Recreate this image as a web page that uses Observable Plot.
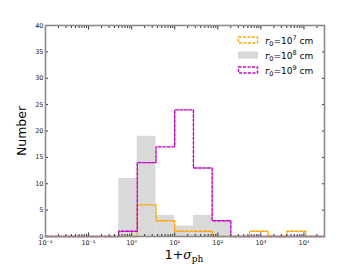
<!DOCTYPE html>
<html>
<head>
<meta charset="utf-8">
<script src="https://cdn.jsdelivr.net/npm/d3@7"></script>
<script src="https://cdn.jsdelivr.net/npm/@observablehq/plot@0.6"></script>
<style>
  html, body { margin: 0; padding: 0; background: #fff; }
  #chart { width: 360px; height: 270px; }
</style>
</head>
<body>
<div id="chart"></div>
<script>
// Bin edges (log-spaced)
const binEdges = [0.5, 1.35, 3.68, 10, 27.2, 73.9, 201, 546, 1484, 4034, 10966];
// Counts per bin
const countsR7 = [0, 6, 3, 1, 1, 0, 0, 1, 0, 1];
const countsR8 = [11, 19, 4, 2, 4, 3, 0, 0, 0, 0];
const countsR9 = [1, 14, 17, 24, 13, 3, 0, 0, 0, 0];
const seriesLabels = ["7", "8", "9"];
const xMajorTicks = [1e-2, 1e-1, 1e0, 1e1, 1e2, 1e3, 1e4];
const yTicks = [0, 5, 10, 15, 20, 25, 30, 35, 40];
const xDomain = [0.01, 3e4];

const sup = {"-": "⁻", "0": "⁰", "1": "¹", "2": "²", "3": "³", "4": "⁴", "5": "⁵", "6": "⁶", "7": "⁷", "8": "⁸", "9": "⁹"};
const toSup = s => String(s).split("").map(c => sup[c] || c).join("");
const fmtPow = v => "10" + toSup(Math.round(Math.log10(v)));

const minorTicks = [];
for (let k = -2; k <= 4; k++) for (let m = 2; m <= 9; m++) {
  const v = m * Math.pow(10, k);
  if (v <= xDomain[1]) minorTicks.push(v);
}

function stepData(counts) {
  const pts = [{x: xDomain[0], y: 0}];
  counts.forEach((c, i) => pts.push({x: binEdges[i], y: c}));
  pts.push({x: binEdges[binEdges.length - 1], y: 0});
  pts.push({x: xDomain[1], y: 0});
  return pts;
}
const rects = countsR8.map((c, i) => ({x1: binEdges[i], x2: binEdges[i + 1], y: c}));

const orange = "#FFA500", magenta = "#CC00CC", grayFill = "#d9d9d9";
const tickColor = "#333";

const plot = Plot.plot({
  width: 360,
  height: 270,
  marginLeft: 45,
  marginRight: 36,
  marginTop: 25,
  marginBottom: 34,
  style: {fontFamily: "DejaVu Sans", fontSize: "6.5px", color: "#222", background: "#fff"},
  x: {type: "log", domain: xDomain},
  y: {domain: [0, 40]},
  marks: [
    Plot.rectY(rects, {x1: "x1", x2: "x2", y: "y", fill: grayFill}),
    Plot.line(stepData(countsR7), {x: "x", y: "y", curve: "step-after", stroke: orange, strokeWidth: 1.4, strokeDasharray: "3,1.5"}),
    Plot.line(stepData(countsR9), {x: "x", y: "y", curve: "step-after", stroke: magenta, strokeWidth: 1.4, strokeDasharray: "3,1.5"}),
    // bottom axis
    Plot.axisX({anchor: "bottom", ticks: xMajorTicks, tickFormat: fmtPow, tickSize: -3.5, tickPadding: 7, stroke: tickColor, label: null}),
    Plot.axisX({anchor: "bottom", ticks: minorTicks, tickFormat: () => "", tickSize: -2, stroke: tickColor, label: null}),
    // top axis
    Plot.axisX({anchor: "top", ticks: xMajorTicks, tickFormat: () => "", tickSize: -3.5, stroke: tickColor, label: null}),
    Plot.axisX({anchor: "top", ticks: minorTicks, tickFormat: () => "", tickSize: -2, stroke: tickColor, label: null}),
    // left axis
    Plot.axisY({anchor: "left", ticks: yTicks, tickSize: -3, tickPadding: 5, stroke: tickColor, label: null}),
    Plot.axisY({anchor: "right", ticks: yTicks, tickFormat: () => "", tickSize: -3, stroke: tickColor, label: null}),
    Plot.frame({stroke: "#8a8a8a", strokeWidth: 1.6})
  ]
});
document.getElementById("chart").appendChild(plot);

const svg = d3.select(plot);
// x label
const xl = svg.append("text")
  .attr("x", 184).attr("y", 259)
  .attr("text-anchor", "middle")
  .style("font-family", "DejaVu Sans").style("font-size", "12.5px").attr("fill", "#000");
xl.append("tspan").text("1+");
xl.append("tspan").style("font-style", "italic").style("font-family", "DejaVu Serif").text("σ");
xl.append("tspan").attr("dy", 2.5).style("font-size", "9px").style("font-family", "DejaVu Serif").text("ph");

// y label
svg.append("text")
  .attr("transform", "translate(26,131) rotate(-90)")
  .attr("text-anchor", "middle")
  .style("font-family", "DejaVu Sans").style("font-size", "12.5px").attr("fill", "#000")
  .text("Number");

// legend
const legendItems = [
  {label: seriesLabels[0], type: "line", color: orange},
  {label: seriesLabels[1], type: "fill", color: grayFill},
  {label: seriesLabels[2], type: "line", color: magenta}
];
const lg = svg.append("g").attr("text-anchor", "start");
legendItems.forEach((d, i) => {
  const cy = 40 + i * 15;
  const g = lg.append("g");
  if (d.type === "fill") {
    g.append("rect").attr("x", 238).attr("y", cy - 3.5).attr("width", 20).attr("height", 7).attr("fill", d.color);
  } else {
    g.append("rect").attr("x", 238.5).attr("y", cy - 3).attr("width", 19).attr("height", 6)
      .attr("fill", "none").attr("stroke", d.color).attr("stroke-width", 1.4).attr("stroke-dasharray", "3,1.5");
  }
  const t = g.append("text").attr("x", 265).attr("y", cy + 3.5).attr("text-anchor", "start")
    .style("font-family", "DejaVu Sans").style("font-size", "9px").attr("fill", "#000");
  t.append("tspan").style("font-family", "DejaVu Serif").style("font-style", "italic").text("r");
  t.append("tspan").attr("dy", 2).style("font-size", "6.5px").text("0");
  t.append("tspan").attr("dy", -2).text("=10");
  t.append("tspan").attr("dy", -3.5).style("font-size", "6.5px").text(d.label);
  t.append("tspan").attr("dy", 3.5).text(" cm");
});
</script>
</body>
</html>
